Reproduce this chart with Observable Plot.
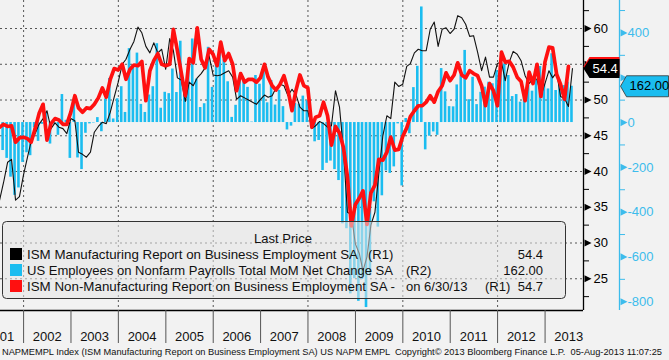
<!DOCTYPE html>
<html><head><meta charset="utf-8">
<script src="https://cdn.jsdelivr.net/npm/d3@7"></script>
<script src="https://cdn.jsdelivr.net/npm/@observablehq/plot@0.6"></script>
<style>
html,body{margin:0;padding:0;background:#f2f2f2;}
#chart{width:669px;height:360px;overflow:hidden;}
</style></head><body><div id="chart"></div>
<script>
// ---- data (monthly, Jun 2001 .. Jul 2013) ----
const firstMonth = {year: 2001, month: 6};
const mfgEmployment = [
36.0,38.5,41.3,41.7,36.0,36.5,39.5,
42.0,44.2,45.3,46.6,47.4,48.5,46.0,46.8,46.2,46.0,45.3,47.4,
47.1,42.7,42.4,42.0,42.7,45.5,46.3,46.9,46.7,48.3,50.4,52.5,
55.0,55.7,57.1,58.2,60.2,59.4,57.5,56.6,58.0,56.6,57.1,54.3,
58.6,56.9,53.1,52.8,49.8,52.5,52.0,53.1,53.7,54.5,56.2,53.5,
53.4,53.5,53.8,54.1,53.2,50.1,50.6,50.3,50.0,49.7,49.4,50.1,
50.7,50.4,50.6,51.7,52.2,52.0,50.6,51.5,50.8,49.0,48.5,48.5,
46.0,46.4,47.0,46.7,46.2,46.4,51.3,49.0,43.0,34.3,34.0,29.9,
28.5,26.1,28.1,32.5,34.3,39.7,45.0,47.8,47.4,52.5,51.9,52.2,
54.7,55.1,56.6,57.1,56.9,56.9,59.9,60.9,57.5,59.9,60.1,59.3,
59.9,61.8,61.5,60.6,58.9,59.0,56.7,54.1,56.0,53.2,53.2,55.1,
55.3,52.7,55.3,56.8,56.4,55.5,53.4,52.3,53.0,52.9,50.6,52.3,
54.1,53.1,53.9,50.5,50.2,49.1,54.4];
const nonMfgEmployment = [
46.2,46.6,46.3,46.4,44.1,44.7,44.8,
44.6,44.1,46.0,48.1,49.4,44.4,46.7,47.4,47.2,46.6,46.6,48.3,
50.6,48.9,48.3,48.9,48.8,49.4,50.3,51.7,50.4,52.9,54.4,54.2,
55.0,52.9,54.3,54.9,54.8,55.4,49.9,54.1,55.5,56.5,55.0,54.8,
55.0,59.9,56.9,53.8,50.6,55.8,55.2,60.1,55.7,54.5,57.1,56.4,
54.8,58.1,55.5,56.5,55.0,51.3,53.7,52.5,52.9,52.9,52.5,53.1,
55.0,53.2,52.0,51.4,52.2,53.4,51.4,48.5,51.3,53.5,52.0,51.7,
46.2,47.6,47.8,49.7,47.8,43.7,46.3,45.4,43.4,39.3,32.4,35.4,
36.3,37.3,32.6,37.0,38.1,41.7,41.6,42.7,44.8,43.0,43.1,44.9,
46.1,47.7,48.5,49.2,49.2,49.7,50.6,49.7,51.2,52.0,53.8,52.7,
53.5,55.2,53.5,53.1,54.1,53.7,53.4,52.0,49.2,52.3,51.3,49.2,
56.7,55.3,55.4,54.6,53.2,52.6,49.9,53.9,52.3,55.0,50.5,55.3,
57.4,57.3,53.6,52.2,50.1,54.7];
const payrollsChange = [
-129,-125,-160,-244,-325,-292,-178,
-135,-148,-24,-84,-8,47,-96,-7,-57,125,10,-160,
95,-158,-210,-48,-6,-2,22,-41,105,197,16,106,
160,45,330,249,310,81,45,123,160,352,64,135,
129,239,134,363,164,243,373,194,67,84,336,157,
277,315,280,182,23,77,207,184,157,2,210,171,
238,88,188,78,144,71,-33,-16,85,82,118,97,
15,-86,-80,-214,-182,-172,-210,-259,-452,-474,-765,-697,
-798,-701,-826,-684,-354,-467,-327,-216,-227,-198,-6,-283,
18,-50,156,251,516,-122,-61,-42,-57,241,137,71,
70,168,212,322,102,202,80,135,158,180,173,232,
247,262,210,116,125,91,143,165,140,188,250,173,
150,307,143,190,165,180,162];

const leftMajorTicks = [25,30,35,40,45,50,55,60];
const leftMinorTicks = [22.5,27.5,32.5,37.5,42.5,47.5,52.5,57.5,62.5];
const rightMajorTicks = [-800,-600,-400,-200,0,200,400];
const rightMinorTicks = [-700,-500,-300,-100,100,300,500];
const hiddenLeftLabels = [55];      // covered by the last-value tag
const hiddenRightLabels = [200];    // covered by the last-value tag
const yearLabels = [2001,2002,2003,2004,2005,2006,2007,2008,2009,2010,2011,2012,2013];
const gridYears = [2002,2004,2006,2008,2010,2012];

const legendTitle = "Last Price";
const legendNames = [
  "ISM Manufacturing Report on Business Employment SA",
  "US Employees on Nonfarm Payrolls Total MoM Net Change SA",
  "ISM Non-Manufacturing Report on Business Employment SA -"
];
const legendAxes = ["(R1)","(R2)","(R1)"];
const legendLast = ["54.4","162.00","54.7"];
const legendDateNote = "on 6/30/13";
const footerText = "NAPMEMPL Index (ISM Manufacturing Report on Business Employment SA) US NAPM EMPL  Copyright\u00A9 2013 Bloomberg Finance L.P.  05-Aug-2013 11:07:25";

// ---- helpers ----
const BLUE = "#1bbdf0", AXBLUE = "#3cbcec", RED = "#ff1010";
const ZERO_LEFT = 46.85, K = 0.03133;       // secondary (R2) axis mapped onto R1 scale
const toLeft = r => ZERO_LEFT + r * K;
const fromLeft = l => (l - ZERO_LEFT) / K;
const monthEnd = i => new Date(Date.UTC(firstMonth.year, firstMonth.month - 1 + i + 1, 0));
const rows = mfgEmployment.map((v, i) => ({date: monthEnd(i), mfg: v, pay: payrollsChange[i]}));
const rowsNon = nonMfgEmployment.map((v, i) => ({date: monthEnd(i), non: v}));
const xDomain = [new Date(Date.UTC(2001,6,7)), new Date(Date.UTC(2013,9,24))];
const yDomain = [20.56, 63.92];
const yearStart = y => new Date(Date.UTC(y,0,1));
const yearMid = y => new Date(Date.UTC(y,6,2));

const triRight = {draw(ctx){ ctx.moveTo(0,-3.6); ctx.lineTo(7,0); ctx.lineTo(0,3.6); ctx.closePath(); }};
const tagSmall = {draw(ctx){ ctx.moveTo(0,0); ctx.lineTo(6,-9.5); ctx.lineTo(36,-9.5); ctx.lineTo(36,9.5); ctx.lineTo(6,9.5); ctx.closePath(); }};
const tagWide = {draw(ctx){ ctx.moveTo(0,0); ctx.lineTo(6,-10.5); ctx.lineTo(48,-10.5); ctx.lineTo(48,10.5); ctx.lineTo(6,10.5); ctx.closePath(); }};

const lastMfg = mfgEmployment[mfgEmployment.length-1];
const lastNon = nonMfgEmployment[nonMfgEmployment.length-1];
const lastPay = payrollsChange[payrollsChange.length-1];

const chart = Plot.plot({
  width: 669, height: 360,
  marginTop: 0, marginLeft: 0, marginRight: 86, marginBottom: 50,
  x: {type: "utc", domain: xDomain},
  y: {domain: yDomain},
  style: {background: "transparent", fontFamily: "'Liberation Sans', Arial, sans-serif", fontSize: "13px", color: "#000"},
  marks: [
    Plot.gridY(leftMajorTicks, {stroke: "#555", strokeOpacity: 1, strokeDasharray: "2,3"}),
    Plot.gridX(gridYears.map(yearStart), {stroke: "#555", strokeOpacity: 1, strokeDasharray: "2,3"}),
    Plot.ruleX(rows, {x: "date", y1: () => toLeft(0), y2: d => toLeft(d.pay), stroke: BLUE, strokeWidth: 2.6, dx: -1, clip: true}),
    Plot.line(rows, {x: "date", y: "mfg", stroke: "#111", strokeWidth: 1.1, clip: true}),
    Plot.line(rowsNon, {x: "date", y: "non", stroke: RED, strokeWidth: 3.7, strokeLinejoin: "round", clip: true}),
    Plot.ruleY([yDomain[0]], {stroke: "#000", strokeWidth: 1.3}),
    Plot.ruleX([xDomain[1]], {stroke: "#000", strokeWidth: 1.3}),
    Plot.ruleX([xDomain[1]], {stroke: AXBLUE, strokeWidth: 1.3, dx: 36}),
    Plot.axisX(yearLabels.slice(1).map(yearStart), {tickSize: 33, tickFormat: () => "", stroke: "#555"}),
    Plot.axisX(yearLabels.map(yearMid), {tickSize: 0, tickPadding: 21, tickFormat: d => String(d.getUTCFullYear()), fontSize: 13, fill: "#111"}),
    Plot.axisY(leftMinorTicks, {anchor: "right", tickSize: 5, tickFormat: () => "", stroke: "#000"}),
    Plot.axisY(leftMajorTicks.filter(t => !hiddenLeftLabels.includes(t)), {anchor: "right", tickSize: 0, tickPadding: 10, tickFormat: d => String(d), fontSize: 13, fill: "#000"}),
    Plot.axisY(rightMinorTicks.map(toLeft), {anchor: "right", tickSize: 5, dx: 36, tickFormat: () => "", stroke: AXBLUE}),
    Plot.axisY(rightMajorTicks.filter(t => !hiddenRightLabels.includes(t)).map(toLeft), {anchor: "right", tickSize: 0, tickPadding: 8, dx: 36, tickFormat: d => String(Math.round(fromLeft(d))), fontSize: 13, fill: AXBLUE}),
    Plot.dot(leftMajorTicks, {y: d => d, frameAnchor: "right", symbol: triRight, fill: "#000", stroke: "none", dx: 1}),
    Plot.dot(rightMajorTicks.map(toLeft), {y: d => d, frameAnchor: "right", symbol: triRight, fill: AXBLUE, stroke: "none", dx: 37}),
    // last value tags
    Plot.dot([lastNon], {y: d => d, frameAnchor: "right", symbol: tagSmall, fill: RED, stroke: "none"}),
    Plot.dot([lastMfg], {y: d => d, frameAnchor: "right", symbol: tagSmall, fill: "#000", stroke: "none"}),
    Plot.text([lastMfg], {y: d => d, frameAnchor: "right", text: d => d.toFixed(1), textAnchor: "start", dx: 9, fill: "#fff", fontSize: 13}),
    Plot.dot([toLeft(lastPay)], {y: d => d, frameAnchor: "right", symbol: tagWide, fill: BLUE, stroke: "#333", strokeWidth: 0.8, dx: 37}),
    Plot.text([toLeft(lastPay)], {y: d => d, frameAnchor: "right", text: d => fromLeft(d).toFixed(2), textAnchor: "start", dx: 46, fill: "#000", fontSize: 13})
  ]
});

// ---- legend box and footer (decorations) ----
const svg = d3.select(chart);
const lg = svg.append("g").attr("font-family", "'Liberation Sans', Arial, sans-serif").attr("font-size", 13)
  .attr("fill", "#111").attr("text-anchor", "start");
lg.append("rect").attr("x", 2.5).attr("y", 221.5).attr("width", 563).attr("height", 77).attr("rx", 4)
  .attr("fill", "#e6e6e6").attr("fill-opacity", 0.55).attr("stroke", "#333").attr("stroke-width", 1);
lg.append("text").attr("x", 283).attr("y", 238).attr("dy", "0.35em").attr("text-anchor", "middle").text(legendTitle);
const swatches = ["#000", BLUE, RED];
const rowY = [254, 270, 286];
const nameEnds = [358, 393, 395];
legendNames.forEach((name, i) => {
  lg.append("rect").attr("x", 10).attr("y", rowY[i]-6).attr("width", 12).attr("height", 12).attr("fill", swatches[i]);
  lg.append("text").attr("x", 27).attr("y", rowY[i]).attr("dy", "0.35em").attr("text-anchor", "start")
    .attr("textLength", nameEnds[i]-27).attr("lengthAdjust", "spacingAndGlyphs").text(name);
});
lg.append("text").attr("x", 368).attr("y", rowY[0]).attr("dy", "0.35em").attr("text-anchor", "start").text(legendAxes[0]);
lg.append("text").attr("x", 406).attr("y", rowY[1]).attr("dy", "0.35em").attr("text-anchor", "start").text(legendAxes[1]);
lg.append("text").attr("x", 406).attr("y", rowY[2]).attr("dy", "0.35em").attr("text-anchor", "start").text(legendDateNote);
lg.append("text").attr("x", 485).attr("y", rowY[2]).attr("dy", "0.35em").attr("text-anchor", "start").text(legendAxes[2]);
legendLast.forEach((v, i) => {
  lg.append("text").attr("x", 543).attr("y", rowY[i]).attr("dy", "0.35em").attr("text-anchor", "end").text(v);
});
svg.append("text").attr("x", 2).attr("y", 355).attr("font-family", "'Liberation Sans', Arial, sans-serif")
  .attr("text-anchor", "start").attr("font-size", 9).attr("fill", "#111")
  .attr("textLength", 660).attr("lengthAdjust", "spacingAndGlyphs").text(footerText);

document.getElementById("chart").appendChild(chart);
</script>
</body></html>
